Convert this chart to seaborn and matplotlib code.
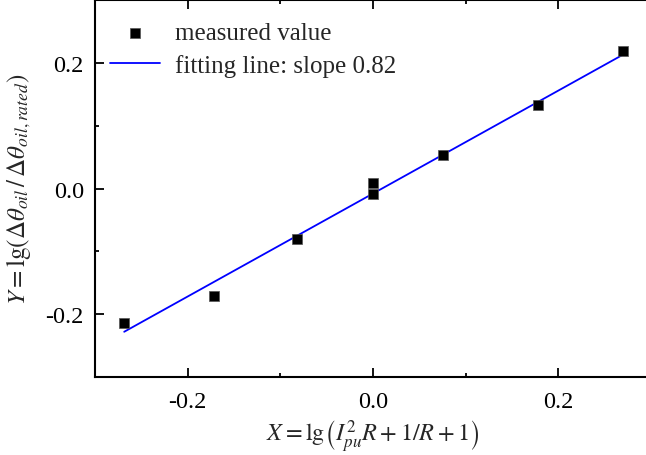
import numpy as np
import pandas as pd
import seaborn as sns
import matplotlib.pyplot as plt
from matplotlib.ticker import MultipleLocator

# measured points
x_meas = [-0.2685, -0.1713, -0.0825, 0.0, 0.0, 0.0753, 0.1778, 0.2703]
y_meas = [-0.2143, -0.1704, -0.0800, 0.0090, -0.0085, 0.0540, 0.1340, 0.2197]

# fitted line
fit_slope = 0.82
fit_intercept = -0.0078
fit_x = [min(x_meas), max(x_meas)]
fit_y = [fit_slope * v + fit_intercept for v in fit_x]

sns.set_style("ticks")
plt.rcParams['font.family'] = ['Liberation Serif', 'DejaVu Serif']
plt.rcParams['mathtext.fontset'] = 'stix'

fig = plt.figure(figsize=(6.46, 4.56), dpi=100)
ax = fig.add_axes([95 / 646, 1 - 378 / 456, 556 / 646, 376.7 / 456])

meas_df = pd.DataFrame({'x': x_meas, 'y': y_meas})
fit_df = pd.DataFrame({'x': fit_x, 'y': fit_y})

sns.lineplot(data=fit_df, x='x', y='y', ax=ax, color='#0000ff', lw=1.3,
             label='fitting line: slope 0.82', zorder=2)
sns.scatterplot(data=meas_df, x='x', y='y', ax=ax, marker='s', s=60,
                color='black', edgecolor='#555555', linewidth=0.5,
                label='measured value', zorder=3)

ax.set_xlim(-0.3, 0.3)
ax.set_ylim(-0.3, 0.3)
ax.xaxis.set_major_locator(MultipleLocator(0.2))
ax.xaxis.set_minor_locator(MultipleLocator(0.1))
ax.yaxis.set_major_locator(MultipleLocator(0.2))
ax.yaxis.set_minor_locator(MultipleLocator(0.1))
ax.xaxis.set_major_formatter(plt.FuncFormatter(lambda v, p: f"{v:.1f}".replace('-0.0', '0.0')))
ax.yaxis.set_major_formatter(plt.FuncFormatter(lambda v, p: f"{v:.1f}".replace('-0.0', '0.0')))

ax.tick_params(which='both', direction='in', top=True, right=False,
               labelsize=17.5, width=1.3, colors='black')
ax.tick_params(which='major', length=6.5)
ax.tick_params(axis='x', which='major', pad=10)
ax.tick_params(axis='y', which='major', pad=8)
ax.tick_params(which='minor', length=3.2)
for sp in ax.spines.values():
    sp.set_linewidth(1.5)
    sp.set_color('black')

ax.set_xlabel(r'$X=\mathrm{lg}\left(I_{pu}^{2}R+1/R+1\right)$', fontsize=17.5, labelpad=4)
ax.set_ylabel(r'$Y=\mathrm{lg}\left(\Delta\theta_{oil}\,/\,\Delta\theta_{oil,rated}\right)$',
              fontsize=18, labelpad=9)

handles, labels = ax.get_legend_handles_labels()
order = [labels.index('measured value'), labels.index('fitting line: slope 0.82')]
ax.legend([handles[i] for i in order], [labels[i] for i in order],
          loc='upper left', frameon=False, fontsize=18, handlelength=2.0,
          borderaxespad=0.3, labelspacing=0.38, handletextpad=0.6,
          bbox_to_anchor=(-0.005, 0.99))

fig.savefig('out.png', dpi=100)
